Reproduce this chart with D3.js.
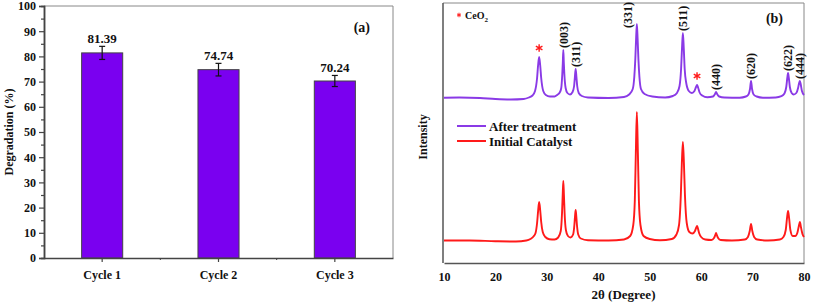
<!DOCTYPE html>
<html>
<head>
<meta charset="utf-8">
<script src="https://cdn.jsdelivr.net/npm/d3@7"></script>
<style>
    body { margin: 0; background: #fff; }
    svg { display: block; font-family: "Liberation Serif", "Times New Roman", serif; font-weight: bold; }
</style>
</head>
<body>
<div id="chart"></div>
<script>
// ---- panel (a): degradation per cycle ----
const cycles = ['Cycle 1', 'Cycle 2', 'Cycle 3'];
const degradation = [81.39, 74.74, 70.24];
const degradationErr = [2.6, 2.5, 2.2];
const degTicks = [0, 10, 20, 30, 40, 50, 60, 70, 80, 90, 100];

// ---- panel (b): XRD patterns, [2theta, intensity a.u.] ----
const afterTreatment = [
    [10, 165.3], [13, 165.5], [17, 165], [20, 164], [23, 163.5], [25.5, 164], [26.5, 165.5],
    [27.2, 167.5], [27.7, 172], [28.1, 185], [28.3, 198], [28.5, 206], [28.7, 198], [28.9, 185],
    [29.3, 172], [29.8, 168], [30.6, 166.5], [31.5, 166.5], [32, 168], [32.5, 170.5], [32.8, 175],
    [33, 189], [33.1, 200], [33.2, 213], [33.3, 200], [33.4, 189], [33.65, 175], [34, 170],
    [34.5, 168.5], [35, 171], [35.3, 177], [35.45, 186], [35.6, 194], [35.75, 186], [35.9, 177],
    [36.2, 170], [36.8, 167], [38, 165.5], [42, 165], [45, 166], [46, 168.5], [46.7, 174],
    [47, 186], [47.2, 204], [47.35, 224], [47.5, 239], [47.65, 224], [47.8, 204], [48, 186],
    [48.3, 174], [49, 169], [50.5, 166.5], [53, 165.5], [54.5, 167], [55.3, 170], [55.8, 177],
    [56.1, 194], [56.28, 215], [56.45, 230], [56.62, 215], [56.8, 194], [57.1, 180], [57.6, 172],
    [58.2, 170], [58.7, 172], [59, 176], [59.2, 178], [59.4, 175.5], [59.7, 170.5], [60.2, 167.5],
    [61.2, 165.8], [62.3, 166.5], [62.7, 169], [62.9, 171], [63.1, 169], [63.5, 166.5], [64.5, 165.5],
    [67.5, 165.3], [68.7, 166.5], [69.2, 168.5], [69.5, 174], [69.7, 182], [69.9, 174], [70.2, 168.5],
    [70.8, 166.5], [72, 165.3], [74.5, 165.5], [75.6, 166.8], [76.2, 169.5], [76.55, 176], [76.75, 185],
    [76.9, 190], [77.05, 185], [77.25, 176], [77.6, 170], [78, 168.5], [78.5, 170], [78.85, 175],
    [79.05, 180], [79.2, 182], [79.35, 179], [79.6, 172], [80, 168]
];
const initialCatalyst = [
    [10, 22.5], [15, 22.5], [20, 21.8], [24, 21.5], [26, 22.5], [26.8, 24], [27.4, 26.5],
    [27.8, 30], [28.1, 40], [28.3, 52], [28.5, 61], [28.7, 53], [28.9, 41], [29.2, 31], [29.7, 26],
    [30.5, 23.8], [31.5, 23.5], [32.2, 25.5], [32.7, 32], [32.95, 50], [33.08, 68], [33.2, 82],
    [33.32, 68], [33.45, 50], [33.7, 33], [34.1, 27], [34.6, 25.5], [35.1, 28.5], [35.35, 38],
    [35.48, 47], [35.6, 53], [35.72, 47], [35.85, 38], [36.1, 28.5], [36.6, 24.5], [38, 22.8],
    [42, 22.5], [45, 23.5], [46.2, 27], [46.8, 38], [47.1, 62], [47.3, 110], [47.5, 151],
    [47.7, 110], [47.9, 62], [48.2, 38], [48.8, 27], [50, 24], [52, 22.8], [54.3, 24], [55.2, 28.5],
    [55.7, 38], [56.05, 68], [56.25, 100], [56.45, 121], [56.65, 100], [56.85, 68], [57.2, 40],
    [57.7, 31], [58.3, 29.5], [58.8, 32], [59.05, 35.5], [59.2, 37], [59.35, 35], [59.6, 30],
    [60, 26], [60.8, 23.5], [62, 23], [62.5, 25], [62.75, 28], [62.9, 30], [63.05, 28], [63.3, 25],
    [63.8, 23], [66, 22.5], [68.5, 23.5], [69.1, 26], [69.45, 32], [69.7, 39], [69.95, 32],
    [70.3, 26], [70.9, 23.5], [73, 22.5], [75.3, 23.5], [76, 26], [76.45, 33], [76.7, 45], [76.9, 52],
    [77.1, 45], [77.35, 33], [77.8, 27], [78.3, 27], [78.7, 30], [79, 37], [79.2, 41], [79.4, 36],
    [79.7, 29], [80, 26]
];
const hklLabels = ['(003)', '(311)', '(331)', '(511)', '(440)', '(620)', '(622)', '(444)'];
const hklTheta = [33.2, 35.6, 47.5, 56.45, 62.9, 69.7, 76.9, 79.2];
const ceriaTheta = [28.5, 59.2];
const thetaTicks = [10, 20, 30, 40, 50, 60, 70, 80];

const purple = '#7a00f0';
const purpleLine = '#8a3ae6';
const red = '#ff1a1a';

const svg = d3.select('#chart').append('svg')
    .attr('width', 813)
    .attr('height', 304);

// ================= panel (a) =================
const a = {left: 44, right: 393, top: 6, bottom: 258};

const xA = d3.scaleBand()
    .domain(cycles)
    .range([a.left, a.right])
    .paddingInner(0.647)
    .paddingOuter(0.3235);

const yA = d3.scaleLinear().domain([0, 100]).range([a.bottom, a.top]);

// frame
svg.append('line').attr('x1', a.left).attr('x2', a.right).attr('y1', a.top).attr('y2', a.top)
    .attr('stroke', '#888').attr('stroke-width', 1);
svg.append('line').attr('x1', a.right).attr('x2', a.right).attr('y1', a.top).attr('y2', a.bottom)
    .attr('stroke', '#888').attr('stroke-width', 1);

// bars
svg.selectAll('.bar')
    .data(degradation)
    .enter().append('rect')
    .attr('class', 'bar')
    .attr('x', (d, i) => xA(cycles[i]))
    .attr('width', xA.bandwidth())
    .attr('y', d => yA(d))
    .attr('height', d => yA(0) - yA(d))
    .attr('fill', purple)
    .attr('stroke', '#444')
    .attr('stroke-width', 1);

// error bars
const errG = svg.append('g').attr('stroke', '#111').attr('stroke-width', 1.2);
degradation.forEach((d, i) => {
    const cx = xA(cycles[i]) + xA.bandwidth() / 2;
    errG.append('line').attr('x1', cx).attr('x2', cx)
        .attr('y1', yA(d + degradationErr[i])).attr('y2', yA(d - degradationErr[i]));
    [d + degradationErr[i], d - degradationErr[i]].forEach(v => {
        errG.append('line').attr('x1', cx - 3).attr('x2', cx + 3)
            .attr('y1', yA(v)).attr('y2', yA(v));
    });
});

// value labels
svg.selectAll('.val')
    .data(degradation)
    .enter().append('text')
    .attr('class', 'val')
    .attr('x', (d, i) => xA(cycles[i]) + xA.bandwidth() / 2)
    .attr('y', (d, i) => yA(d + degradationErr[i]) - 3)
    .attr('text-anchor', 'middle')
    .attr('font-size', 13)
    .attr('fill', '#111')
    .text(d => d.toFixed(2));

// y axis
const yAxisA = svg.append('g')
    .attr('transform', `translate(${a.left},0)`)
    .call(d3.axisLeft(yA).tickValues(degTicks).tickSize(5).tickPadding(3));
yAxisA.append('g')
    .call(d3.axisLeft(yA).tickValues(d3.range(5, 100, 10)).tickSize(3).tickFormat(''));
yAxisA.attr('font-family', null).attr('font-size', 12);
yAxisA.selectAll('.domain').attr('stroke', '#444').attr('stroke-width', 1.5);
yAxisA.selectAll('line').attr('stroke', '#444').attr('stroke-width', 1.2);
yAxisA.selectAll('text').attr('fill', '#111');

// x axis
const xAxisA = svg.append('g')
    .attr('transform', `translate(0,${a.bottom})`)
    .call(d3.axisBottom(xA).tickSize(4).tickPadding(8).tickSizeOuter(0));
xAxisA.attr('font-family', null).attr('font-size', 12);
xAxisA.selectAll('.domain').attr('stroke', '#444').attr('stroke-width', 1.5);
xAxisA.selectAll('line').attr('stroke', '#444').attr('stroke-width', 1.2);
xAxisA.selectAll('text').attr('fill', '#111');
// minor ticks between categories
xAxisA.selectAll('.minor')
    .data(cycles.slice(1))
    .enter().append('line')
    .attr('x1', d => xA(d) - xA.step() * xA.paddingInner() / 2)
    .attr('x2', d => xA(d) - xA.step() * xA.paddingInner() / 2)
    .attr('y1', 0).attr('y2', 2)
    .attr('stroke', '#444');

svg.append('text')
    .attr('transform', `translate(13,${(a.top + a.bottom) / 2}) rotate(-90)`)
    .attr('text-anchor', 'middle')
    .attr('font-size', 12)
    .attr('fill', '#111')
    .text('Degradation (%)');

svg.append('text')
    .attr('x', 370).attr('y', 32)
    .attr('text-anchor', 'end')
    .attr('font-size', 14)
    .attr('fill', '#111')
    .text('(a)');

// ================= panel (b) =================
const b = {left: 443, right: 804, top: 3, bottom: 263};

const xB = d3.scaleLinear().domain([10, 80]).range([b.left + 1, b.right]);
const yB = d3.scaleLinear().domain([0, 260]).range([b.bottom, b.top]);

svg.append('line').attr('x1', b.left).attr('x2', b.right).attr('y1', b.top).attr('y2', b.top)
    .attr('stroke', '#888').attr('stroke-width', 1);
svg.append('line').attr('x1', b.right).attr('x2', b.right).attr('y1', b.top).attr('y2', b.bottom)
    .attr('stroke', '#888').attr('stroke-width', 1);
svg.append('line').attr('x1', b.left).attr('x2', b.left).attr('y1', b.top).attr('y2', b.bottom)
    .attr('stroke', '#555').attr('stroke-width', 1.5);

const line = d3.line()
    .x(d => xB(d[0]))
    .y(d => yB(d[1]))
    .curve(d3.curveMonotoneX);

svg.append('path')
    .datum(initialCatalyst)
    .attr('d', line)
    .attr('fill', 'none')
    .attr('stroke', red)
    .attr('stroke-width', 1.9);

svg.append('path')
    .datum(afterTreatment)
    .attr('d', line)
    .attr('fill', 'none')
    .attr('stroke', purpleLine)
    .attr('stroke-width', 1.9);

const xAxisB = svg.append('g')
    .attr('transform', `translate(0,${b.bottom})`)
    .call(d3.axisBottom(xB).tickValues(thetaTicks).tickSize(0).tickPadding(9).tickSizeOuter(0));
xAxisB.attr('font-family', null).attr('font-size', 12);
xAxisB.selectAll('.domain').attr('stroke', '#555').attr('stroke-width', 1.5);
xAxisB.selectAll('text').attr('fill', '#111');

svg.append('text')
    .attr('x', (b.left + b.right) / 2).attr('y', 299)
    .attr('text-anchor', 'middle')
    .attr('font-size', 13)
    .attr('fill', '#111')
    .text('2θ (Degree)');

svg.append('text')
    .attr('transform', `translate(427,137) rotate(-90)`)
    .attr('text-anchor', 'middle')
    .attr('font-size', 12)
    .attr('fill', '#111')
    .text('Intensity');

// peak labels
function peakTop(theta) {
    const near = afterTreatment.filter(p => Math.abs(p[0] - theta) < 0.4);
    return d3.max(near, p => p[1]);
}
const labelShift = {'(331)': [-9, 6]};
hklLabels.forEach((lab, i) => {
    const s = labelShift[lab] || [0, 0];
    const px = xB(hklTheta[i]) + s[0];
    const py = yB(peakTop(hklTheta[i])) - 2 + s[1];
    svg.append('text')
        .attr('transform', `translate(${px},${py}) rotate(-90)`)
        .attr('dy', '0.35em')
        .attr('font-size', 12)
        .attr('fill', '#111')
        .text(lab);
});

const star = d3.symbol().type(d3.symbolAsterisk);
ceriaTheta.forEach(t => {
    svg.append('path')
        .attr('d', star.size(40)())
        .attr('transform', `translate(${xB(t)},${yB(peakTop(t)) - 9})`)
        .attr('fill', 'none')
        .attr('stroke', red)
        .attr('stroke-width', 1.4);
});

// CeO2 key
svg.append('path')
    .attr('d', star.size(14)())
    .attr('transform', 'translate(459,15)')
    .attr('fill', 'none')
    .attr('stroke', red)
    .attr('stroke-width', 1);
const ceo = svg.append('text').attr('x', 465).attr('y', 19).attr('font-size', 10).attr('fill', '#111');
ceo.append('tspan').text('CeO');
ceo.append('tspan').attr('font-size', 7).attr('dy', 3).text('2');

svg.append('text')
    .attr('x', 783).attr('y', 23)
    .attr('text-anchor', 'end')
    .attr('font-size', 14)
    .attr('fill', '#111')
    .text('(b)');

// legend
const legendItems = [['After treatment', purpleLine], ['Initial Catalyst', red]];
legendItems.forEach((item, i) => {
    const ly = 126 + i * 15;
    svg.append('line')
        .attr('x1', 457).attr('x2', 486).attr('y1', ly).attr('y2', ly)
        .attr('stroke', item[1]).attr('stroke-width', 2);
    svg.append('text')
        .attr('x', 489).attr('y', ly + 4.5)
        .attr('font-size', 13)
        .attr('fill', '#111')
        .text(item[0]);
});
</script>
</body>
</html>
